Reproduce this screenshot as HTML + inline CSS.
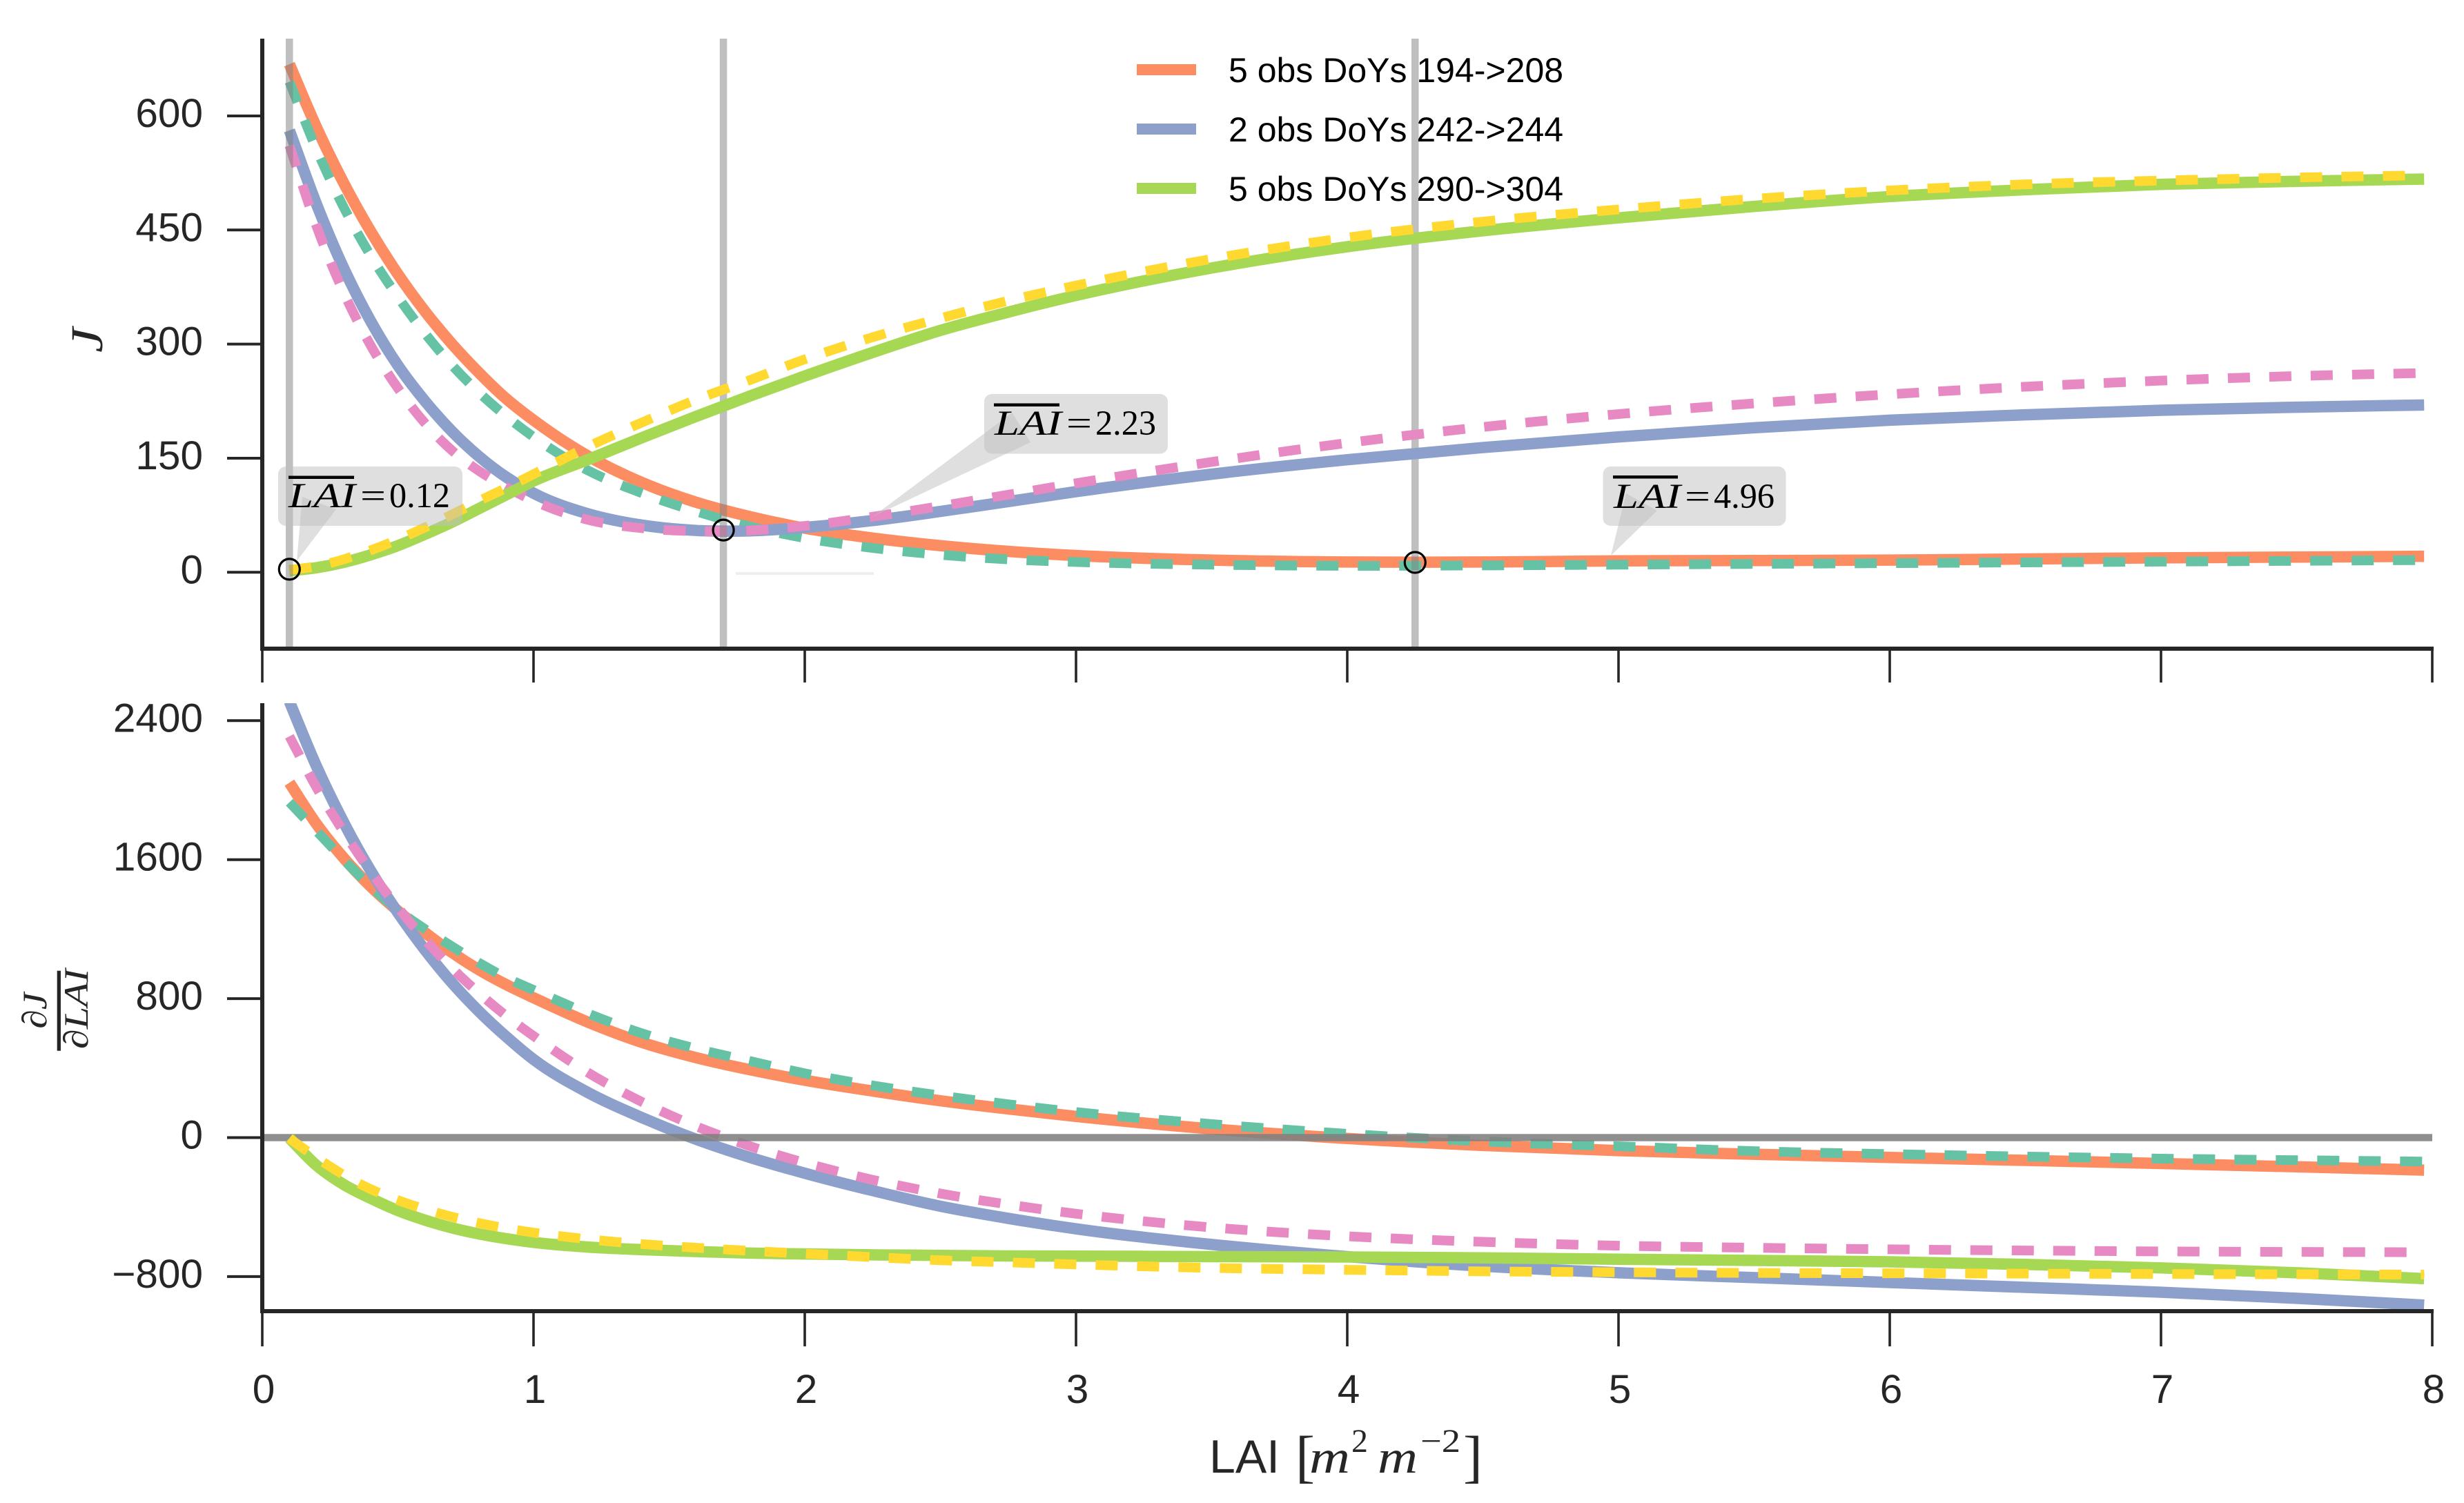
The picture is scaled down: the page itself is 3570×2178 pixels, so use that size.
<!DOCTYPE html>
<html>
<head>
<meta charset="utf-8">
<title>LAI cost function</title>
<style>
html,body{margin:0;padding:0;background:#fff;}
svg{display:block;}
text{font-family:"Liberation Sans",sans-serif;}
.m{font-family:"Liberation Serif",serif;font-style:italic;}
.r{font-family:"Liberation Serif",serif;}
</style>
</head>
<body>
<svg id="chart" xmlns="http://www.w3.org/2000/svg" width="3570" height="2178" viewBox="0 0 3570 2178">
  <rect width="3570" height="2178" fill="#fff"/>
  <defs>
    <clipPath id="clip-top"><rect x="380" y="56" width="3150" height="884"/></clipPath>
    <clipPath id="clip-bottom"><rect x="380" y="1019" width="3150" height="881"/></clipPath>
  </defs>
  <g id="top-marks" clip-path="url(#clip-top)"></g>
  <g id="bottom-marks" clip-path="url(#clip-bottom)"></g>

  <g>
    <polygon points="430,813 438,720 487,738" fill="#bfbfbf" fill-opacity="0.5"/>
    <rect x="403" y="676" width="267" height="86" rx="11" fill="#bfbfbf" fill-opacity="0.5"/>
    <rect x="418" y="689.5" width="95" height="4.5" fill="#000"/>
    <text class="m" x="418" y="735" font-size="51" textLength="97" lengthAdjust="spacingAndGlyphs">LAI</text>
    <text class="r" x="522" y="735" font-size="50" textLength="37" lengthAdjust="spacingAndGlyphs">=</text>
    <text class="r" x="564" y="735" font-size="51" textLength="88" lengthAdjust="spacingAndGlyphs">0.12</text>
  </g>
  <g>
    <polygon points="1264,749 1466.5,598 1493,641" fill="#bfbfbf" fill-opacity="0.5"/>
    <rect x="1426" y="571" width="266" height="86.5" rx="11" fill="#bfbfbf" fill-opacity="0.5"/>
    <rect x="1440" y="584.5" width="95" height="4.5" fill="#000"/>
    <text class="m" x="1441" y="630" font-size="51" textLength="97" lengthAdjust="spacingAndGlyphs">LAI</text>
    <text class="r" x="1545" y="630" font-size="50" textLength="37" lengthAdjust="spacingAndGlyphs">=</text>
    <text class="r" x="1587" y="630" font-size="51" textLength="88" lengthAdjust="spacingAndGlyphs">2.23</text>
  </g>
  <g>
    <polygon points="2334,805 2356,715 2401,740" fill="#bfbfbf" fill-opacity="0.5"/>
    <rect x="2322.5" y="676" width="265" height="86" rx="11" fill="#bfbfbf" fill-opacity="0.5"/>
    <rect x="2337" y="689" width="94" height="4.5" fill="#000"/>
    <text class="m" x="2338" y="736" font-size="51" textLength="97" lengthAdjust="spacingAndGlyphs">LAI</text>
    <text class="r" x="2441" y="736" font-size="50" textLength="37" lengthAdjust="spacingAndGlyphs">=</text>
    <text class="r" x="2483" y="736" font-size="51" textLength="88" lengthAdjust="spacingAndGlyphs">4.96</text>
  </g>
  <rect x="1066" y="829" width="200" height="4" fill="#eeeeee"/>

  <g>
    <g>
      <rect x="1647" y="93" width="86" height="16" fill="#fc8d62"/>
      <text x="1780" y="119" font-size="50" fill="#000">5 obs DoYs 194-&gt;208</text>
    </g>
    <g>
      <rect x="1647" y="179" width="86" height="16" fill="#8da0cb"/>
      <text x="1780" y="205" font-size="50" fill="#000">2 obs DoYs 242-&gt;244</text>
    </g>
    <g>
      <rect x="1647" y="265" width="86" height="16" fill="#a6d854"/>
      <text x="1780" y="291" font-size="50" fill="#000">5 obs DoYs 290-&gt;304</text>
    </g>
  </g>

  <g id="axes"></g>

  <text class="m" font-size="66" fill="#262626" text-anchor="middle" transform="translate(148 493) rotate(-90)" textLength="36" lengthAdjust="spacingAndGlyphs">J</text>
  <g fill="#262626">
    <text class="m" font-size="50" text-anchor="middle" transform="translate(67 1464.5) rotate(-90)" textLength="52" lengthAdjust="spacingAndGlyphs">∂J</text>
    <rect x="82.7" y="1406.7" width="5.3" height="116"/>
    <text class="m" font-size="50" text-anchor="middle" transform="translate(127 1462) rotate(-90)" textLength="116" lengthAdjust="spacingAndGlyphs">∂LAI</text>
  </g>
  <g fill="#262626">
    <text x="1752" y="2134" font-size="68">LAI</text>
    <text class="r" x="1877" y="2139" font-size="84">[</text>
    <text class="m" x="1897" y="2134" font-size="68" textLength="59" lengthAdjust="spacingAndGlyphs">m</text>
    <text class="r" x="1958" y="2104" font-size="48">2</text>
    <text class="m" x="1996" y="2134" font-size="68" textLength="58" lengthAdjust="spacingAndGlyphs">m</text>
    <text class="r" x="2058" y="2104" font-size="48" textLength="58" lengthAdjust="spacingAndGlyphs">−2</text>
    <text class="r" x="2120" y="2139" font-size="84">]</text>
  </g>
</svg>
<script>
// LAI grid shared by every series (m2 m-2)
const lai = [0.1,0.2,0.3,0.4,0.5,0.6,0.7,0.8,0.9,1,1.2,1.4,1.6,1.8,2,2.25,2.5,2.75,3,3.5,4,4.5,5,5.5,6,6.5,7,7.5,7.97];

// Top panel: cost J
const jOrange = [668,585,512,448,392,343,300,262,228,200,153,118,92,73,58,45,35,27.5,22,16,13.5,13.5,15,15.5,16,17.5,19,20,21];
const jTeal   = [645,556,480,416,362,314,272,236,205,178,134,104,80,60,45,32,23,17,13.5,10,8.5,9,10,11,12,13,14,15,16];
const jBlue   = [581,484,400,330,272,225,185,152,125,104,77,62,55,54.5,59,68,80,93,106,129,148,164,178,190,200,207,213,217,220];
const jPink   = [561,455,368,298,242,196,160,133,112,94,69,58,54,55,61,73,87,102,117,145,170,191,208,222,234,244,252,258,262];
const jGreen  = [2,6,13,23,35,50,66,84,102,120,148,177,205,232,258,289,318,342,364,400,428,449,466,481,494,503,510,514,517];
const jYellow = [3,8,17,29,43,59,76,94,111,129,165,197,227,253,280,309,334,357,377,412,440,461,477,491,502,510,515,519,522];

// Bottom panel: gradient dJ/dLAI
const dOrange = [2043,1805,1610,1445,1305,1180,1065,965,880,805,665,548,460,390,330,268,212,165,122,50,-5,-45,-75,-96,-114,-131,-149,-168,-187];
const dTeal   = [1930,1765,1600,1445,1310,1200,1100,1005,920,850,715,600,512,440,370,300,242,192,147,78,22,-22,-50,-78,-95,-109,-121,-130,-138];
const dBlue   = [2510,2137,1815,1535,1295,1080,890,725,580,450,260,115,-10,-115,-205,-305,-395,-465,-525,-615,-685,-740,-778,-806,-834,-862,-890,-925,-964];
const dPink   = [2310,2015,1760,1530,1325,1140,975,830,700,585,375,205,65,-50,-145,-243,-322,-385,-438,-517,-568,-600,-622,-634,-643,-650,-655,-658,-660];
const dGreen  = [-3,-160,-270,-350,-420,-475,-520,-555,-582,-603,-630,-645,-656,-665,-670,-675,-678,-681,-682,-685,-687,-692,-700,-707,-715,-730,-750,-778,-812];
const dYellow = [-5,-115,-215,-297,-360,-412,-456,-492,-522,-547,-585,-613,-634,-652,-668,-688,-706,-718,-730,-750,-761,-770,-775,-779,-781,-783,-785,-787,-788];

// Retrieved minima: LAI position and cost value
const minLai  = [4.25, 1.7, 0.1];
const minCost = [13, 55.5, 4];

// Axes
const xTicks = [0,1,2,3,4,5,6,7,8];
const xTickLabels = ['0','1','2','3','4','5','6','7','8'];
const yTicksTop = [0,150,300,450,600];
const yTickLabelsTop = ['0','150','300','450','600'];
const yTicksBottom = [-800,0,800,1600,2400];
const yTickLabelsBottom = ['−800','0','800','1600','2400'];

const NS = 'http://www.w3.org/2000/svg';
const xScale = v => 380 + 393 * v;
const yTop = v => 829.3 - 1.1022 * v;
const yBottom = v => 1648.5 - 0.25175 * v;

function smoothPath(xs, ys, fx, fy) {
  const n = xs.length;
  const m = [];
  for (let i = 0; i < n; i++) {
    if (i === 0) m.push((ys[1] - ys[0]) / (xs[1] - xs[0]));
    else if (i === n - 1) m.push((ys[n - 1] - ys[n - 2]) / (xs[n - 1] - xs[n - 2]));
    else {
      const h0 = xs[i] - xs[i - 1], h1 = xs[i + 1] - xs[i];
      const s0 = (ys[i] - ys[i - 1]) / h0, s1 = (ys[i + 1] - ys[i]) / h1;
      m.push((s0 * h1 + s1 * h0) / (h0 + h1));
    }
  }
  let d = 'M' + fx(xs[0]).toFixed(2) + ' ' + fy(ys[0]).toFixed(2);
  for (let i = 0; i < n - 1; i++) {
    const h = xs[i + 1] - xs[i];
    d += 'C' + fx(xs[i] + h / 3).toFixed(2) + ' ' + fy(ys[i] + m[i] * h / 3).toFixed(2) +
         ' ' + fx(xs[i + 1] - h / 3).toFixed(2) + ' ' + fy(ys[i + 1] - m[i + 1] * h / 3).toFixed(2) +
         ' ' + fx(xs[i + 1]).toFixed(2) + ' ' + fy(ys[i + 1]).toFixed(2);
  }
  return d;
}

function drawSolid(parent, values, fy, color, name) {
  const el = document.createElementNS(NS, 'path');
  
  
  el.setAttribute('d', smoothPath(lai, values, xScale, fy));
  el.setAttribute('fill', 'none');
  el.setAttribute('stroke', color);
  el.setAttribute('stroke-width', '16.5');
  parent.appendChild(el);
}

function drawDashed(parent, values, fy, color, name) {
  const el = document.createElementNS(NS, 'path');
  
  
  el.setAttribute('d', smoothPath(lai, values, xScale, fy));
  el.setAttribute('fill', 'none');
  el.setAttribute('stroke', color);
  el.setAttribute('stroke-width', '14');
  el.setAttribute('stroke-dasharray', '32 28');
  parent.appendChild(el);
}

function drawMinimum(parent, index) {
  const line = document.createElementNS(NS, 'line');
  
  
  line.setAttribute('x1', xScale(minLai[index]));
  line.setAttribute('x2', xScale(minLai[index]));
  line.setAttribute('y1', 56);
  line.setAttribute('y2', 940);
  line.setAttribute('stroke', '#808080');
  line.setAttribute('stroke-opacity', '0.5');
  line.setAttribute('stroke-width', '10.5');
  parent.appendChild(line);
  const dot = document.createElementNS(NS, 'circle');
  
  
  dot.setAttribute('cx', xScale(minLai[index]));
  dot.setAttribute('cy', yTop(minCost[index]));
  dot.setAttribute('r', '15');
  dot.setAttribute('fill', 'none');
  dot.setAttribute('stroke', '#000');
  dot.setAttribute('stroke-width', '3.2');
  parent.appendChild(dot);
}

const topG = document.getElementById('top-marks');
drawSolid(topG, jOrange, yTop, '#fc8d62', 'cost-line-doys-194-208');
drawDashed(topG, jTeal, yTop, '#66c2a5', 'cost-line-doys-194-208-dashed');
drawMinimum(topG, 0);
drawSolid(topG, jBlue, yTop, '#8da0cb', 'cost-line-doys-242-244');
drawDashed(topG, jPink, yTop, '#e78ac3', 'cost-line-doys-242-244-dashed');
drawMinimum(topG, 1);
drawSolid(topG, jGreen, yTop, '#a6d854', 'cost-line-doys-290-304');
drawDashed(topG, jYellow, yTop, '#ffd92f', 'cost-line-doys-290-304-dashed');
drawMinimum(topG, 2);

const botG = document.getElementById('bottom-marks');
drawSolid(botG, dOrange, yBottom, '#fc8d62', 'gradient-line-doys-194-208');
drawDashed(botG, dTeal, yBottom, '#66c2a5', 'gradient-line-doys-194-208-dashed');
drawSolid(botG, dBlue, yBottom, '#8da0cb', 'gradient-line-doys-242-244');
drawDashed(botG, dPink, yBottom, '#e78ac3', 'gradient-line-doys-242-244-dashed');
const zero = document.createElementNS(NS, 'line');


zero.setAttribute('x1', xScale(0));
zero.setAttribute('x2', xScale(8));
zero.setAttribute('y1', yBottom(0));
zero.setAttribute('y2', yBottom(0));
zero.setAttribute('stroke', '#808080');
zero.setAttribute('stroke-opacity', '0.88');
zero.setAttribute('stroke-width', '10.5');
botG.appendChild(zero);
drawSolid(botG, dGreen, yBottom, '#a6d854', 'gradient-line-doys-290-304');
drawDashed(botG, dYellow, yBottom, '#ffd92f', 'gradient-line-doys-290-304-dashed');

const axesG = document.getElementById('axes');

function spine(x1, y1, x2, y2, name, w) {
  const el = document.createElementNS(NS, 'line');
  
  
  el.setAttribute('x1', x1);
  el.setAttribute('y1', y1);
  el.setAttribute('x2', x2);
  el.setAttribute('y2', y2);
  el.setAttribute('stroke', '#262626');
  el.setAttribute('stroke-width', w);
  axesG.appendChild(el);
}

function label(x, y, str, anchor, name) {
  const el = document.createElementNS(NS, 'text');
  
  
  el.setAttribute('x', x);
  el.setAttribute('y', y);
  el.setAttribute('font-size', '58.5');
  el.setAttribute('fill', '#262626');
  el.setAttribute('text-anchor', anchor);
  el.textContent = str;
  axesG.appendChild(el);
}

spine(380, 56, 380, 943, 'cost-y-axis-spine', 6);
spine(377, 940, 3526, 940, 'cost-x-axis-spine', 6);
spine(380, 1019, 380, 1903, 'gradient-y-axis-spine', 6);
spine(377, 1900, 3526, 1900, 'gradient-x-axis-spine', 6);

xTicks.forEach(function (t, i) {
  spine(xScale(t), 940, xScale(t), 989, 'cost-x-tick', 3.6);
  spine(xScale(t), 1900, xScale(t), 1951, 'gradient-x-tick', 3.6);
  label(xScale(t) + 2, 2033, xTickLabels[i], 'middle', 'x-tick-label');
});
yTicksTop.forEach(function (t, i) {
  spine(329, yTop(t), 380, yTop(t), 'cost-y-tick', 4);
  label(294, yTop(t) + 16, yTickLabelsTop[i], 'end', 'cost-y-tick-label');
});
yTicksBottom.forEach(function (t, i) {
  spine(329, yBottom(t), 380, yBottom(t), 'gradient-y-tick', 4);
  label(294, yBottom(t) + 16, yTickLabelsBottom[i], 'end', 'gradient-y-tick-label');
});
</script>
</body>
</html>
